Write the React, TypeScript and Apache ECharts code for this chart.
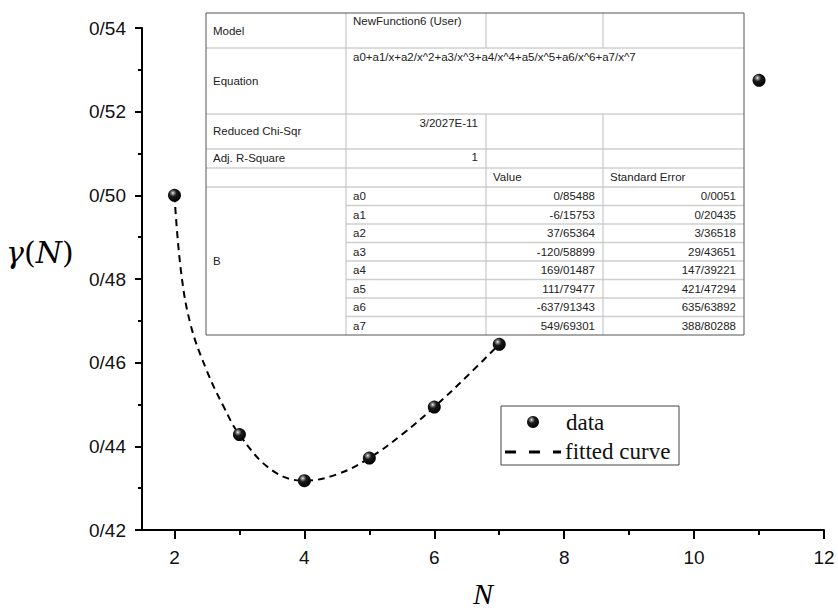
import React, { useEffect, useRef } from 'react';
import * as echarts from 'echarts';

// ---- data ----
const pointsN = [2, 3, 4, 5, 6, 7, 11];
const pointsGamma = [0.5, 0.4428, 0.4318, 0.4372, 0.4494, 0.4644, 0.5275];
const fitN = [2, 2.1, 2.25, 2.5, 2.75, 3, 3.5, 4, 4.5, 5, 5.5, 6, 6.5, 7];
const fitGamma = [0.5, 0.4819, 0.469, 0.458, 0.4497, 0.4428, 0.4343, 0.4318, 0.4333, 0.4372, 0.4428, 0.4494, 0.4567, 0.4644];
const xMajorTicks = [2, 4, 6, 8, 10, 12];
const xMinorTicks = [3, 5, 7, 9, 11];

const modelName = 'NewFunction6 (User)';
const equationText = 'a0+a1/x+a2/x^2+a3/x^3+a4/x^4+a5/x^5+a6/x^6+a7/x^7';
const chiSqrText = '3/2027E-11';
const adjRText = '1';
const paramNames = ['a0', 'a1', 'a2', 'a3', 'a4', 'a5', 'a6', 'a7'];
const paramValues = ['0/85488', '-6/15753', '37/65364', '-120/58899', '169/01487', '111/79477', '-637/91343', '549/69301'];
const paramErrors = ['0/0051', '0/20435', '3/36518', '29/43651', '147/39221', '421/47294', '635/63892', '388/80288'];

const ballGradient = () =>
  new echarts.graphic.RadialGradient(0.38, 0.32, 0.7, [
    { offset: 0, color: '#ffffff' },
    { offset: 0.12, color: '#9a9a9a' },
    { offset: 0.4, color: '#1a1a1a' },
    { offset: 1, color: '#000' },
  ]);

function buildTable(): any[] {
  const cols = [206, 346, 486, 603, 744];
  const top = 13;
  const rowY = [13, 48, 114, 149, 168, 187];
  const pRow = 18.5;
  const bottom = rowY[5] + pRow * paramNames.length;
  const els: any[] = [];
  const inner = { stroke: '#cfcfcf', lineWidth: 1.5 };
  const innerV = { stroke: '#bdbdbd', lineWidth: 1 };
  els.push({ type: 'rect', shape: { x: cols[0], y: top, width: cols[4] - cols[0], height: bottom - top }, style: { fill: '#fff', stroke: 'none' }, z: 10 });
  [48, 114, 149, 168, 187].forEach((y) =>
    els.push({ type: 'line', shape: { x1: cols[0], y1: y, x2: cols[4], y2: y }, style: inner, z: 11 })
  );
  for (let k = 1; k < paramNames.length; k++) {
    const y = rowY[5] + pRow * k;
    els.push({ type: 'line', shape: { x1: cols[1], y1: y, x2: cols[4], y2: y }, style: inner, z: 11 });
  }
  els.push({ type: 'line', shape: { x1: cols[1], y1: top, x2: cols[1], y2: bottom }, style: innerV, z: 11 });
  [cols[2], cols[3]].forEach((x) => {
    els.push({ type: 'line', shape: { x1: x, y1: top, x2: x, y2: 48 }, style: innerV, z: 11 });
    els.push({ type: 'line', shape: { x1: x, y1: 114, x2: x, y2: bottom }, style: innerV, z: 11 });
  });
  els.push({ type: 'rect', shape: { x: cols[0], y: top, width: cols[4] - cols[0], height: bottom - top }, style: { fill: 'none', stroke: '#555', lineWidth: 1 }, z: 12 });

  const font = { fontFamily: 'Liberation Sans, Arial', fontSize: 11.5, fill: '#222' };
  const t = (text: string, x: number, y: number, align = 'left', vAlign = 'middle') =>
    els.push({ type: 'text', x, y, style: { ...font, text, textAlign: align, textVerticalAlign: vAlign }, z: 13 });
  const padL = 7;
  const valR = cols[3] - 8;
  const errR = cols[4] - 8;
  t('Model', cols[0] + padL, 31);
  t(modelName, cols[1] + padL, 21);
  t('Equation', cols[0] + padL, 81);
  t(equationText, cols[1] + padL, 57);
  t('Reduced Chi-Sqr', cols[0] + padL, 131);
  t(chiSqrText, cols[2] - 8, 123, 'right');
  t('Adj. R-Square', cols[0] + padL, 158);
  t(adjRText, cols[2] - 8, 157, 'right');
  t('Value', cols[2] + padL, 177);
  t('Standard Error', cols[3] + padL, 177);
  t('B', cols[0] + padL, (rowY[5] + bottom) / 2);
  paramNames.forEach((n, i) => {
    const cy = rowY[5] + pRow * i + pRow / 2;
    t(n, cols[1] + padL, cy);
    t(paramValues[i], valR, cy, 'right');
    t(paramErrors[i], errR, cy, 'right');
  });
  return els;
}

function buildLegend(): any[] {
  const serif = 'Liberation Serif, Times New Roman, serif';
  return [
    { type: 'rect', shape: { x: 501, y: 406, width: 178, height: 59 }, style: { fill: '#fff', stroke: '#444', lineWidth: 1 }, z: 20 },
    { type: 'circle', shape: { cx: 533, cy: 422, r: 6 }, style: { fill: ballGradient() }, z: 21 },
    { type: 'line', shape: { x1: 505, y1: 452, x2: 561, y2: 452 }, style: { stroke: '#000', lineWidth: 3, lineDash: [11, 13] }, z: 21 },
    { type: 'text', x: 566, y: 422, style: { text: 'data', fontFamily: serif, fontSize: 23, fill: '#111', textVerticalAlign: 'middle' }, z: 21 },
    { type: 'text', x: 565, y: 451, style: { text: 'fitted curve', fontFamily: serif, fontSize: 23, fill: '#111', textVerticalAlign: 'middle' }, z: 21 },
  ];
}

export default function App() {
  const ref = useRef<HTMLDivElement>(null);
  useEffect(() => {
    document.body.style.margin = '0';
    const chart = echarts.init(ref.current!, null, { renderer: 'svg' });
    const axisFont = { fontFamily: 'Liberation Sans, Arial', fontSize: 19, color: '#111' };
    const option: any = {
      animation: false,
      backgroundColor: '#fff',
      grid: { left: 142, right: 14, top: 28, bottom: 79, containLabel: false },
      xAxis: [
        {
          type: 'value',
          min: 1.5,
          max: 12,
          position: 'bottom',
          name: 'N',
          nameLocation: 'middle',
          nameGap: 48,
          nameTextStyle: { fontFamily: 'Liberation Serif, Times New Roman, serif', fontStyle: 'italic', fontSize: 30, color: '#000' },
          axisLine: { show: true, lineStyle: { color: '#000', width: 2 } },
          axisTick: { show: true, customValues: xMajorTicks, length: 9, lineStyle: { color: '#000', width: 2 } },
          axisLabel: { ...axisFont, customValues: xMajorTicks, margin: 18 },
          splitLine: { show: false },
        },
        {
          type: 'value',
          min: 1.5,
          max: 12,
          position: 'bottom',
          axisLine: { show: false },
          axisTick: { show: true, customValues: xMinorTicks, length: 5, lineStyle: { color: '#000', width: 2 } },
          axisLabel: { show: false },
          splitLine: { show: false },
        },
      ],
      yAxis: {
        type: 'value',
        min: 0.42,
        max: 0.54,
        interval: 0.02,
        axisLine: { show: true, lineStyle: { color: '#000', width: 2 } },
        axisTick: { show: true, length: 7, lineStyle: { color: '#000', width: 2 } },
        minorTick: { show: true, splitNumber: 2, length: 4, lineStyle: { color: '#000', width: 2 } },
        axisLabel: {
          ...axisFont,
          margin: 16,
          formatter: (v: number) => '0/' + String(Math.round(v * 100)).padStart(2, '0'),
        },
        splitLine: { show: false },
        minorSplitLine: { show: false },
      },
      series: [
        {
          type: 'line',
          data: fitN.map((x, i) => [x, fitGamma[i]]),
          smooth: 0.4,
          showSymbol: false,
          lineStyle: { color: '#000', width: 2, type: [7, 5] },
          z: 2,
        },
        {
          type: 'scatter',
          data: pointsN.map((x, i) => [x, pointsGamma[i]]),
          symbolSize: 13,
          itemStyle: { color: ballGradient(), opacity: 1 },
          z: 3,
        },
      ],
      graphic: [
        ...buildTable(),
        ...buildLegend(),
        {
          type: 'text',
          x: 6,
          y: 252,
          style: {
            text: '{g|γ}{p|(}{g|N}{p|)}',
            textVerticalAlign: 'middle',
            rich: {
              g: { fontFamily: 'DejaVu Serif, Liberation Serif, serif', fontStyle: 'italic', fontSize: 30, color: '#000' },
              p: { fontFamily: 'DejaVu Serif, Liberation Serif, serif', fontSize: 30, color: '#000' },
            },
          },
        },
      ],
    };
    chart.setOption(option);
    return () => chart.dispose();
  }, []);
  return <div ref={ref} style={{ width: 838, height: 613 }} />;
}
